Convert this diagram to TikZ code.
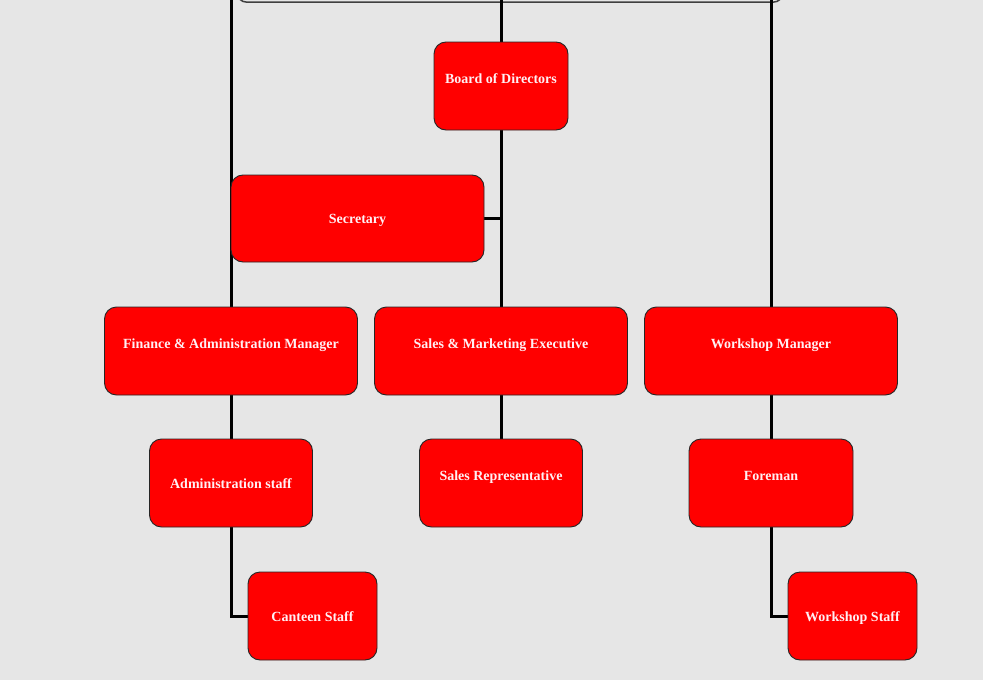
\documentclass[tikz,border=0pt]{standalone}
\usepackage{fontspec}
\setmainfont{Liberation Serif}
\usepackage{tikz}
\usetikzlibrary{backgrounds}
\definecolor{paper}{RGB}{230,230,230}
\definecolor{boxred}{RGB}{255,0,0}
\definecolor{ink}{RGB}{255,240,244}

\begin{document}
\begin{tikzpicture}[x=1pt, y=-1pt,
	post/.style={draw=black!85, line width=0.9pt, fill=boxred, rounded corners=12pt, text=ink, font=\fontsize{14}{16}\selectfont\bfseries, minimum height=88pt, text height=13.5pt, text depth=3pt, inner sep=0pt},
	lifted/.style={text depth=19pt},
	link/.style={line width=3pt, black}]
			\useasboundingbox (0,0) rectangle (983,680);
			\clip (0,0) rectangle (983,680);
			% Nodes
			\coordinate (topl) at (231,-5);
			\coordinate (topm) at (501,-5);
			\coordinate (topr) at (771,-5);
			\node[post, lifted, minimum width=134pt] (board) at (501,86) {Board of Directors};
			\node[post, minimum width=253pt, minimum height=87pt] (sec) at (357.5,218.5) {Secretary};
			\node[post, lifted, minimum width=253pt] (fin) at (231,351) {Finance \& Administration Manager};
			\node[post, lifted, minimum width=253pt] (sales) at (501,351) {Sales \& Marketing Executive};
			\node[post, lifted, minimum width=253pt] (wm) at (771,351) {Workshop Manager};
			\node[post, minimum width=163pt] (adm) at (231,483) {Administration staff};
			\node[post, lifted, minimum width=163pt] (rep) at (501,483) {Sales Representative};
			\node[post, lifted, minimum width=164pt] (fore) at (771,483) {Foreman};
			\node[post, minimum width=129pt] (cant) at (312.5,616) {Canteen Staff};
			\node[post, minimum width=129pt] (wstaff) at (852.5,616) {Workshop Staff};
			% Links
			\begin{scope}[on background layer]
			\fill[paper] (0,0) rectangle (983,680);
			\draw[black!75, line width=1.5pt, rounded corners=8pt] (238,-40) rectangle (782,2);
			\draw[link] (topl) -- (fin.north);
			\draw[link] (topm) -- (board.north);
			\draw[link] (topr) -- (wm.north);
			\draw[link] (board.south) -- (sales.north);
			\draw[link] (sec.east) -- (sec.east -| board.south);
			\draw[link] (fin.south) -- (adm.north);
			\draw[link] (sales.south) -- (rep.north);
			\draw[link] (wm.south) -- (fore.north);
			\draw[link] (adm.south) |- (cant.west);
			\draw[link] (fore.south) |- (wstaff.west);
			\end{scope}
		\end{tikzpicture}
\end{document}
